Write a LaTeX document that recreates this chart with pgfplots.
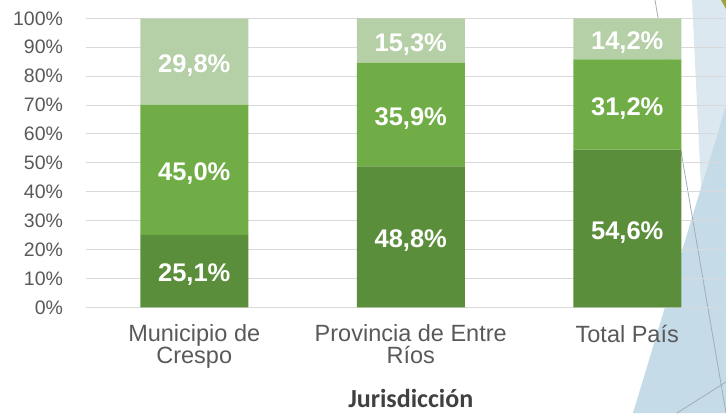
\documentclass[border=0pt]{standalone}
\usepackage{pgfplots}
\pgfplotsset{compat=1.18}
\usepackage{fontspec}
\setmainfont{Liberation Sans}
\newfontfamily\titlefont{Carlito}
\definecolor{gdark}{HTML}{5B8E3A}
\definecolor{gmid}{HTML}{70AD47}
\definecolor{glight}{HTML}{B5CFA6}
\definecolor{gridc}{HTML}{D9D9D9}
\definecolor{labc}{HTML}{595959}
\definecolor{titc}{HTML}{404040}
\definecolor{bglight}{HTML}{DCE8F0}
\definecolor{bgmid}{HTML}{C6DBE8}
\definecolor{bgline}{HTML}{A3ADB5}
\definecolor{olivec}{HTML}{9EA23E}
\begin{document}
\begin{tikzpicture}[x=1pt,y=1pt]
% decorative slide background
\fill[bglight] (692,413) -- (726,413) -- (726,308) -- (701,226) -- cycle;
\fill[bgmid] (726,308) -- (633,0) -- (726,0) -- cycle;
\fill[olivec] (721,413) -- (726,413) -- (726,404) -- cycle;
\draw[bgline, line width=0.8pt] (655,413) -- (726,0);
\draw[bgline, line width=0.8pt] (677,0) -- (726,31);
\begin{axis}[
  scale only axis, width=649.5pt, height=289pt,
  at={(86pt,105.7pt)}, anchor=south west,
  ybar stacked, bar width=108pt,
  xmin=-0.5, xmax=2.5, ymin=0, ymax=100,
  xtick={0,1,2},
  xticklabels={{Municipio de\\Crespo},{Provincia de Entre\\Ríos},{Total País}},
  xticklabel style={align=center, font=\fontsize{23.5}{21.5}\selectfont, text=labc, yshift=-14pt},
  ytick={0,10,...,100},
  yticklabel={\pgfmathprintnumber{\tick}\%},
  yticklabel style={font=\fontsize{19.5}{19.5}\selectfont, text=labc, xshift=-19.5pt},
  /pgf/number format/assume math mode=true,
  axis line style={draw=none},
  major tick length=0pt,
  ymajorgrids, grid style={draw=gridc, line width=1pt},
  xlabel={Jurisdicción},
  xlabel style={font=\titlefont\bfseries\fontsize{26}{26}\selectfont, text=titc,
    at={(axis description cs:0.5,0)}, anchor=base, yshift=-100.5pt},
]
\addplot[fill=gdark, draw=none] coordinates {(0,25.1) (1,48.8) (2,54.6)};
\addplot[fill=gmid, draw=none] coordinates {(0,45.0) (1,35.9) (2,31.2)};
\addplot[fill=glight, draw=none] coordinates {(0,29.8) (1,15.3) (2,14.2)};
\end{axis}
\begin{axis}[
  scale only axis, width=649.5pt, height=289pt,
  at={(86pt,105.7pt)}, anchor=south west,
  xmin=-0.5, xmax=2.5, ymin=0, ymax=100, hide axis,
]
\addplot[draw=none, mark=none, nodes near coords, point meta=explicit symbolic,
  every node near coord/.style={anchor=center, yshift=-4pt, text=white, font=\fontsize{25.5}{25.5}\selectfont\bfseries}]
  coordinates {(0,12.55)[{25,1\%}] (0,47.6)[{45,0\%}] (0,85.05)[{29,8\%}]
               (1,24.4)[{48,8\%}] (1,66.75)[{35,9\%}] (1,92.35)[{15,3\%}]
               (2,27.3)[{54,6\%}] (2,70.2)[{31,2\%}] (2,92.9)[{14,2\%}]};
\end{axis}
\pgfresetboundingbox
\path[use as bounding box] (0pt,0pt) rectangle (726pt,413pt);
\end{tikzpicture}
\end{document}
